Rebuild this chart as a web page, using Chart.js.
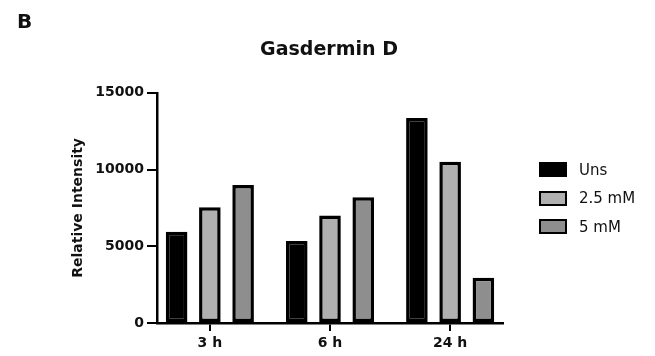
<!DOCTYPE html>
<html>
<head>
<meta charset="utf-8">
<script src="https://cdn.jsdelivr.net/npm/chart.js@4.4.1/dist/chart.umd.min.js"></script>
<style>
  html, body { margin: 0; padding: 0; background: #fff; }
  #wrap { position: relative; width: 655px; height: 356px; }
  #panel { position: absolute; left: 17px; top: 11px; font: bold 20px "DejaVu Sans", sans-serif; line-height: 20px; color: #111; }
  #legend { position: absolute; left: 539px; top: 162px; font: 15px "DejaVu Sans", sans-serif; color: #111; }
  #legend .item { display: flex; align-items: center; height: 15px; margin-bottom: 13.5px; }
  #legend .box { width: 28px; height: 15px; box-sizing: border-box; border: 2.5px solid #000; margin-right: 12px; }
</style>
</head>
<body>
<div id="wrap">
  <canvas id="myChart" width="655" height="356"></canvas>
  <div id="panel">B</div>
  <div id="legend"></div>
</div>
<script>
const categories = ["3 h", "6 h", "24 h"];
const seriesNames = ["Uns", "2.5 mM", "5 mM"];
const unsValues = [5950, 5350, 13350];
const mid25Values = [7550, 7000, 10500];
const high5Values = [9000, 8200, 2950];
const yTicks = [0, 5000, 10000, 15000];

const fillColors = ["#000000", "#b0b0b0", "#8e8e8e"];
const tickFont = { family: "DejaVu Sans", size: 14, weight: "bold" };

const context = document.getElementById("myChart").getContext("2d");

const myChart = new Chart(context, {
  type: "bar",
  data: {
    datasets: [unsValues, mid25Values, high5Values].map((vals, i) => ({
      label: seriesNames[i],
      data: vals.map((v, k) => ({ x: k, y: v })),
      backgroundColor: fillColors[i],
      borderColor: "#000000",
      borderWidth: 3.5,
      borderSkipped: false,
      categoryPercentage: 0.83,
      barPercentage: 0.65
    }))
  },
  options: {
    responsive: false,
    animation: false,
    layout: { padding: { left: 3, right: 0, top: 0, bottom: 0 } },
    plugins: {
      title: {
        display: true,
        text: "Gasdermin D",
        color: "#111",
        font: { family: "DejaVu Sans", size: 19, weight: "bold" },
        padding: { top: 39, bottom: 31 }
      },
      legend: { display: false },
      tooltip: { enabled: false }
    },
    scales: {
      x: {
        type: "linear",
        min: -0.44,
        max: 2.44,
        offset: false,
        afterBuildTicks: (axis) => { axis.ticks = categories.map((c, k) => ({ value: k })); },
        afterFit: (axis) => { axis.height = 33; },
        grid: {
          display: true,
          offset: false,
          drawOnChartArea: false,
          drawTicks: true,
          tickLength: 8,
          color: "#000",
          lineWidth: 2
        },
        border: { color: "#000", width: 2.5 },
        ticks: {
          color: "#111",
          font: tickFont,
          padding: 4,
          maxRotation: 0,
          callback: (v) => categories[v]
        }
      },
      y: {
        min: 0,
        max: 15000,
        afterBuildTicks: (axis) => { axis.ticks = yTicks.map(v => ({ value: v })); },
        afterFit: (axis) => { axis.width = 154; },
        grid: {
          display: true,
          drawOnChartArea: false,
          drawTicks: true,
          tickLength: 10,
          color: "#000",
          lineWidth: 2
        },
        border: { color: "#000", width: 2.5 },
        ticks: {
          color: "#111",
          font: tickFont,
          padding: 3,
          callback: (v) => String(v)
        },
        title: {
          display: true,
          text: "Relative Intensity",
          color: "#111",
          font: { family: "DejaVu Sans", size: 14, weight: "bold" },
          padding: { top: 67, bottom: 0 }
        }
      },
      // empty right-hand space where the legend sits
      spacer: {
        type: "linear",
        position: "right",
        grid: { display: false },
        border: { display: false },
        ticks: { display: false },
        afterFit: (axis) => { axis.width = 152; }
      }
    }
  }
});

// legend built from the chart's own datasets
const legendEl = document.getElementById("legend");
myChart.data.datasets.forEach((ds) => {
  const item = document.createElement("div");
  item.className = "item";
  const box = document.createElement("span");
  box.className = "box";
  box.style.background = ds.backgroundColor;
  const label = document.createElement("span");
  label.textContent = ds.label;
  item.appendChild(box);
  item.appendChild(label);
  legendEl.appendChild(item);
});
</script>
</body>
</html>
